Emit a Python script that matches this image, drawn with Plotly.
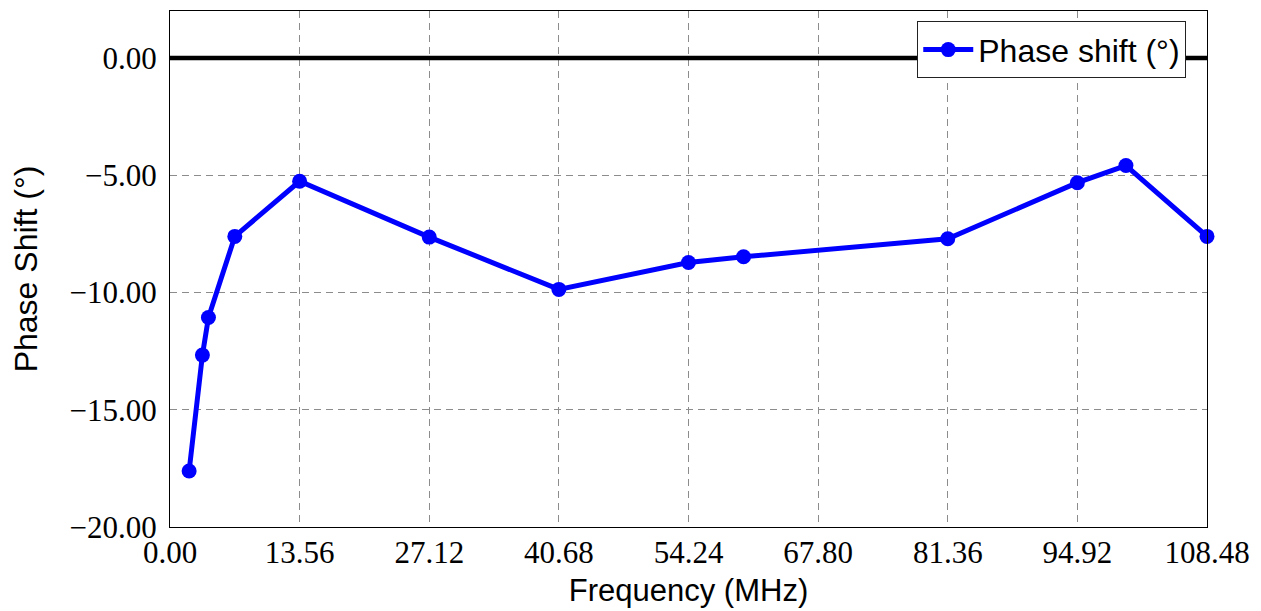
import plotly.graph_objects as go

freq_mhz = [2.0, 3.39, 4.02, 6.78, 13.56, 27.12, 40.68, 54.24, 60.0, 81.36, 94.92, 100.0, 108.48]
phase_deg = [-17.61, -12.67, -11.07, -7.61, -5.26, -7.64, -9.87, -8.72, -8.48, -7.71, -5.32, -4.59, -7.61]
x_ticks = [0.00, 13.56, 27.12, 40.68, 54.24, 67.80, 81.36, 94.92, 108.48]
y_ticks = [0, -5, -10, -15, -20]
series_name = "Phase shift (°)"
x_title = "Frequency (MHz)"
y_title = "Phase Shift (°)"

fig = go.Figure()
fig.add_trace(go.Scatter(
    x=freq_mhz, y=phase_deg, mode="lines+markers", name=series_name,
    line=dict(color="#0000ff", width=5),
    marker=dict(color="#0000ff", size=15, symbol="circle"),
    cliponaxis=False,
))

fig.add_shape(type="line", xref="x", yref="y", x0=x_ticks[0], x1=x_ticks[-1], y0=0, y1=0,
              line=dict(color="black", width=4.5), layer="above")

tick_font = dict(family="Liberation Serif", size=31, color="black")
grid_kw = dict(showgrid=True, gridcolor="#8c8c8c", gridwidth=1, griddash="7px,5px",
               showline=True, linecolor="black", linewidth=1.2, mirror=True,
               zeroline=False, ticks="", tickfont=tick_font)

fig.update_xaxes(range=[x_ticks[0], x_ticks[-1]], tickvals=x_ticks,
                 ticktext=[f"{v:.2f}" for v in x_ticks],
                 ticklabelstandoff=-2,
                 title=dict(text=x_title, font=dict(family="Liberation Sans", size=31, color="black"), standoff=10),
                 **grid_kw)
fig.update_yaxes(range=[-20, 2], tickvals=y_ticks,
                 ticktext=[("\u2212" if v < 0 else "") + f"{abs(v):.2f}" for v in y_ticks],
                 ticklabelstandoff=6,
                 title=dict(text=y_title, font=dict(family="Liberation Sans", size=32, color="black"), standoff=28),
                 **grid_kw)

fig.update_layout(
    width=1261, height=611,
    margin=dict(l=162, r=62, t=3, b=92),
    plot_bgcolor="white", paper_bgcolor="white",
    showlegend=True,
    legend=dict(x=0.98, y=0.98, xanchor="right", yanchor="top",
                bgcolor="white", bordercolor="#222222", borderwidth=1,
                font=dict(family="Liberation Sans", size=32, color="black"),
                itemwidth=50, tracegroupgap=0),
)

fig.write_html("out.html")
